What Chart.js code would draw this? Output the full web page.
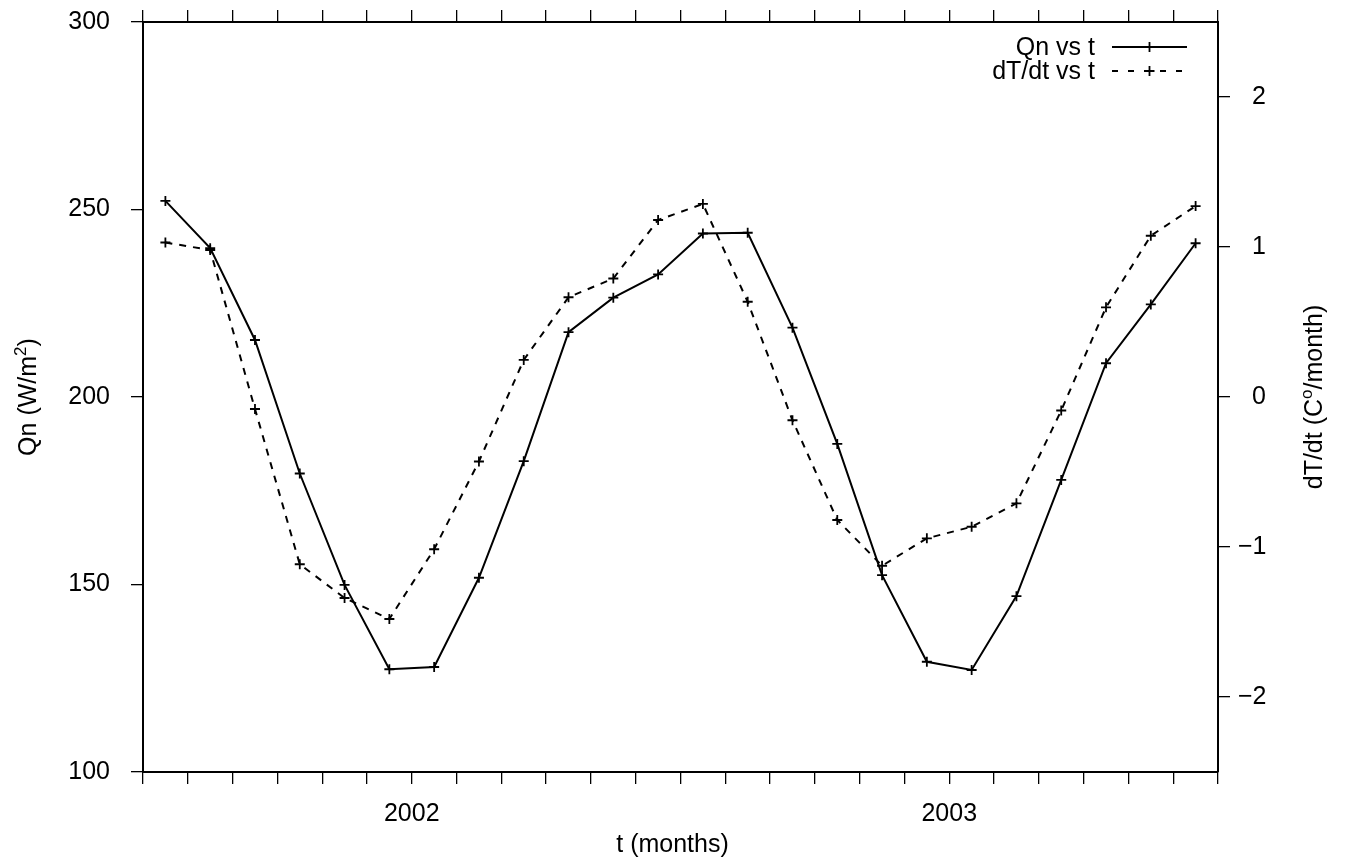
<!DOCTYPE html>
<html>
<head>
<meta charset="utf-8">
<script src="https://cdn.jsdelivr.net/npm/chart.js@4.4.1/dist/chart.umd.min.js"></script>
<style>
  html, body { margin: 0; padding: 0; background: #fff; }
  #wrap { width: 1370px; height: 860px; }
</style>
</head>
<body>
<div id="wrap"><canvas id="chart" width="1370" height="860"></canvas></div>
<script>
// monthly values, Jul 2001 .. Jun 2003 (plotted mid-month)
const months = [
    '2001-07', '2001-08', '2001-09', '2001-10', '2001-11', '2001-12',
    '2002-01', '2002-02', '2002-03', '2002-04', '2002-05', '2002-06',
    '2002-07', '2002-08', '2002-09', '2002-10', '2002-11', '2002-12',
    '2003-01', '2003-02', '2003-03', '2003-04', '2003-05', '2003-06'
];
const qn = [
    252.3, 239.7, 215.2, 179.6, 149.9, 127.4,
    128.0, 151.8, 182.9, 217.3, 226.5, 232.7,
    243.6, 243.8, 218.5, 187.5, 152.5, 129.4,
    127.2, 146.9, 177.9, 209.0, 224.7, 241.0
];
const dTdt = [
    1.03, 0.98, -0.08, -1.115, -1.34, -1.48,
    -1.015, -0.43, 0.247, 0.665, 0.79, 1.18,
    1.287, 0.635, -0.155, -0.82, -1.125, -0.942,
    -0.865, -0.709, -0.09, 0.598, 1.075, 1.273
];
const yearLabels = ['2002', '2003'];
const qnTicks = [100, 150, 200, 250, 300];
const dTTicks = [-2, -1, 0, 1, 2];

const FONT_FAMILY = '"Liberation Sans", Arial, sans-serif';
const FONT_SIZE = 25;

// months since Jul 2001, centred in the month
function monthToX(m) {
    const [y, mo] = m.split('-').map(Number);
    return (y - 2001) * 12 + (mo - 7) + 0.5;
}

function xTickLabel(v) {
    const year = String(2001 + (v + 6) / 12);
    return yearLabels.includes(year) ? year : '';
}

// draw text with superscript pieces, centred on (x, y) baseline
function drawRich(ctx, parts, x, y, rotation) {
    const sup = Math.round(FONT_SIZE * 0.68);
    let total = 0;
    parts.forEach(p => {
        ctx.font = (p.sup ? sup : FONT_SIZE) + 'px ' + FONT_FAMILY;
        p.w = ctx.measureText(p.t).width;
        total += p.w;
    });
    ctx.save();
    ctx.translate(x, y);
    ctx.rotate(rotation);
    ctx.textAlign = 'left';
    ctx.textBaseline = 'alphabetic';
    let cx = -total / 2;
    parts.forEach(p => {
        ctx.font = (p.sup ? sup : FONT_SIZE) + 'px ' + FONT_FAMILY;
        ctx.fillText(p.t, cx, p.sup ? -FONT_SIZE * 0.42 : 0);
        cx += p.w;
    });
    ctx.restore();
}

const decorPlugin = {
    id: 'decor',
    afterDraw(chart) {
        const ctx = chart.ctx;
        const area = chart.chartArea;
        const midY = (area.top + area.bottom) / 2;
        ctx.save();
        ctx.fillStyle = '#000';
        ctx.strokeStyle = '#000';

        // axis titles
        drawRich(ctx, [{ t: 't (months)' }], (area.left + area.right) / 2 - 8, 852, 0);
        drawRich(ctx, [{ t: 'Qn (W/m' }, { t: '2', sup: true }, { t: ')' }], 36, midY, -Math.PI / 2);
        drawRich(ctx, [{ t: 'dT/dt (C' }, { t: 'o', sup: true }, { t: '/month)' }], 1322, midY, -Math.PI / 2);

        // key, top right
        const entries = chart.data.datasets;
        const textRight = area.right - 123;
        const x0 = area.right - 106, x1 = area.right - 31;
        ctx.font = FONT_SIZE + 'px ' + FONT_FAMILY;
        ctx.textAlign = 'right';
        ctx.textBaseline = 'middle';
        entries.forEach((ds, i) => {
            const ly = area.top + 25 + i * 24;
            ctx.fillText(ds.label, textRight, ly + 1);
            ctx.lineWidth = ds.borderWidth;
            ctx.setLineDash(ds.keyDash || []);
            ctx.beginPath();
            ctx.moveTo(x0, ly);
            ctx.lineTo(x1, ly);
            ctx.stroke();
            ctx.setLineDash([]);
            const cx = (x0 + x1) / 2;
            ctx.lineWidth = ds.pointBorderWidth;
            ctx.beginPath();
            ctx.moveTo(cx - 5, ly); ctx.lineTo(cx + 5, ly);
            ctx.moveTo(cx, ly - 5); ctx.lineTo(cx, ly + 5);
            ctx.stroke();
        });
        ctx.restore();
    }
};

Chart.defaults.font.family = FONT_FAMILY;
Chart.defaults.font.size = FONT_SIZE;
Chart.defaults.color = '#000';

const tickGrid = {
    drawOnChartArea: false,
    drawTicks: true,
    tickLength: 12,
    color: '#000',
    lineWidth: 1.3
};
const frame = { display: true, color: '#000', width: 2 };

function noPad(s) {
    s.paddingTop = 0;
    s.paddingBottom = 0;
    s.paddingLeft = 0;
    s.paddingRight = 0;
}

const ctx = document.getElementById('chart').getContext('2d');
new Chart(ctx, {
    type: 'line',
    data: {
        datasets: [{
            label: 'Qn vs t',
            data: months.map((m, i) => ({ x: monthToX(m), y: qn[i] })),
            yAxisID: 'y',
            borderColor: '#000',
            borderWidth: 2,
            pointStyle: 'cross',
            pointRadius: 5,
            pointBorderWidth: 1.8,
            pointBorderColor: '#000',
            fill: false,
            tension: 0
        }, {
            label: 'dT/dt vs t',
            data: months.map((m, i) => ({ x: monthToX(m), y: dTdt[i] })),
            yAxisID: 'y2',
            borderColor: '#000',
            borderWidth: 2,
            borderDash: [7, 7],
            keyDash: [6, 10],
            pointStyle: 'cross',
            pointRadius: 5,
            pointBorderWidth: 1.8,
            pointBorderColor: '#000',
            fill: false,
            tension: 0
        }]
    },
    options: {
        responsive: false,
        animation: false,
        layout: { padding: 0 },
        plugins: {
            legend: { display: false },
            tooltip: { enabled: false }
        },
        scales: {
            x: {
                type: 'linear',
                position: 'bottom',
                min: 0,
                max: 24,
                grid: tickGrid,
                border: frame,
                ticks: {
                    stepSize: 1,
                    autoSkip: false,
                    maxRotation: 0,
                    padding: 15,
                    callback: v => xTickLabel(v)
                },
                afterFit: s => { s.height = 88; noPad(s); }
            },
            xTop: {
                type: 'linear',
                position: 'top',
                min: 0,
                max: 24,
                grid: tickGrid,
                border: frame,
                ticks: { stepSize: 1, autoSkip: false, display: false },
                afterFit: s => { s.height = 22; noPad(s); }
            },
            y: {
                position: 'left',
                min: qnTicks[0],
                max: qnTicks[qnTicks.length - 1],
                grid: tickGrid,
                border: frame,
                ticks: { stepSize: 50, padding: 21 },
                afterBuildTicks: s => { s.ticks = qnTicks.map(v => ({ value: v })); },
                afterFit: s => { s.width = 143; noPad(s); }
            },
            y2: {
                position: 'right',
                min: -2.5,
                max: 2.5,
                grid: tickGrid,
                border: frame,
                ticks: {
                    padding: 8,
                    crossAlign: 'near',
                    callback: v => (v < 0 ? '\u2212' + Math.abs(v) : '\u2007' + v)
                },
                afterBuildTicks: s => { s.ticks = dTTicks.map(v => ({ value: v })); },
                afterFit: s => { s.width = 152; noPad(s); }
            }
        }
    },
    plugins: [decorPlugin]
});
</script>
</body>
</html>
